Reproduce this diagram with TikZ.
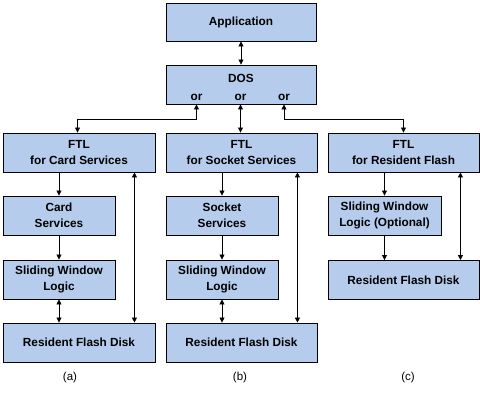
\documentclass[tikz,border=0pt]{standalone}
\usepackage{fontspec}
\setmainfont{Liberation Sans}
\usetikzlibrary{arrows.meta}
\definecolor{boxfill}{RGB}{182,204,236}
\tikzset{
  box/.style={draw=black, line width=0.9pt, fill=boxfill, inner sep=0pt,
    minimum height=39pt, align=center,
    font=\fontsize{11.8}{15.5}\selectfont\bfseries},
  wide/.style={box, minimum width=151pt},
  narrow/.style={box, minimum width=112pt},
  lbl/.style={inner sep=0pt, font=\fontsize{11.8}{14}\selectfont\bfseries},
  captext/.style={inner sep=0pt, font=\fontsize{11.5}{14}\selectfont},
  conn/.style={line width=0.8pt, -{Triangle[length=5pt,width=5pt]}},
  dconn/.style={line width=0.8pt, {Triangle[length=5pt,width=5pt]}-{Triangle[length=5pt,width=5pt]}}
}
\begin{document}
\begin{tikzpicture}[x=1pt,y=-1pt]
\useasboundingbox (0,0) rectangle (480,398);
% top
\node[wide, minimum width=150pt, minimum height=38pt] (app) at (241,22) {Application};
\node[wide, minimum width=150pt] (dos) at (241,84.5) {};
\node[lbl] (dosl) at (241,78) {DOS};
\node[lbl] (orL) at (196.5,97) {or};
\node[lbl] (orM) at (240.5,97) {or};
\node[lbl] (orR) at (284,97) {or};
% FTL row
\node[wide, minimum width=152pt] (ftlA) at (79,152.5) {FTL\\for Card Services};
\node[wide] (ftlB) at (241.5,152.5) {FTL\\for Socket Services};
\node[wide] (ftlC) at (403.5,152.5) {FTL\\for Resident Flash};
% second row
\node[narrow] (csA) at (59,215.5) {Card\\Services};
\node[narrow] (ssB) at (222,215.5) {Socket\\Services};
\node[narrow, minimum width=113pt] (swC) at (384.5,215.5) {Sliding Window\\Logic (Optional)};
% third row
\node[narrow] (swA) at (59,279.5) {Sliding Window\\Logic};
\node[narrow] (swB) at (222,279.5) {Sliding Window\\Logic};
\node[wide] (rfdC) at (403.5,280) {Resident Flash Disk};
% fourth row
\node[wide, minimum width=152pt] (rfdA) at (79,342.5) {Resident Flash Disk};
\node[wide] (rfdB) at (241.5,342.5) {Resident Flash Disk};
% captions
\node[captext] (capA) at (70,377.5) {(a)};
\node[captext] (capB) at (240,377.5) {(b)};
\node[captext] (capC) at (408,377.5) {(c)};
% connectors
\draw[dconn] (app.south) -- (dos.north);
\draw[dconn] (orM |- dos.south) -- (orM |- ftlB.north);
\draw[dconn] (orL |- dos.south) -- (orL |- 0,119) -| ([xshift=-1.5pt]ftlA.north);
\draw[dconn] (orR |- dos.south) -- (orR |- 0,119) -| (ftlC.north);
% column a
\draw[conn] (csA.north |- ftlA.south) -- (csA.north);
\draw[conn] (csA.south) -- (swA.north);
\draw[dconn] (swA.south) -- (swA.south |- rfdA.north);
\draw[dconn] ([xshift=-21pt]ftlA.south east) -- ([xshift=-21pt]rfdA.north east);
% column b
\draw[conn] (ssB.north |- ftlB.south) -- (ssB.north);
\draw[conn] (ssB.south) -- (swB.north);
\draw[dconn] (swB.south) -- (swB.south |- rfdB.north);
\draw[dconn] ([xshift=-20pt]ftlB.south east) -- ([xshift=-20pt]rfdB.north east);
% column c
\draw[conn] (swC.north |- ftlC.south) -- (swC.north);
\draw[conn] (swC.south) -- (swC.south |- rfdC.north);
\draw[dconn] ([xshift=-19pt]ftlC.south east) -- ([xshift=-19pt]rfdC.north east);
\end{tikzpicture}
\end{document}
